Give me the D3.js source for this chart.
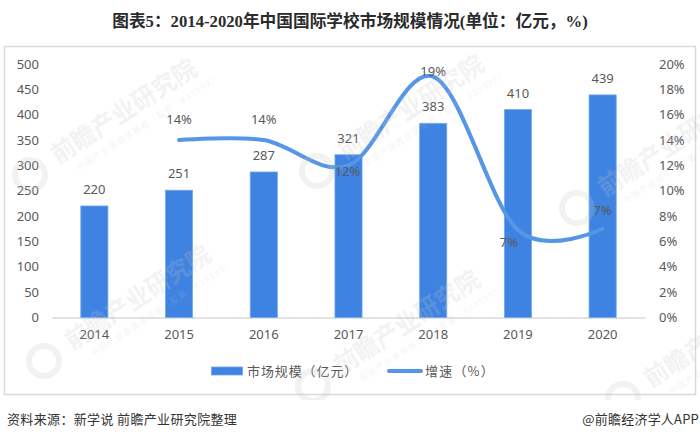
<!DOCTYPE html>
<html>
<head>
<meta charset="utf-8">
<script src="https://cdn.jsdelivr.net/npm/d3@7"></script>
<style>
  html, body { margin: 0; background: #fff; }
  text { font-family: "Noto Sans CJK SC", "Noto Sans", sans-serif; }
</style>
</head>
<body>
<svg id="canvas" width="700" height="440" style="display:block"></svg>
<script>
var years = ['2014', '2015', '2016', '2017', '2018', '2019', '2020'];
var marketSize = [220, 251, 287, 321, 383, 410, 439];
var growthYears = ['2015', '2016', '2017', '2018', '2019', '2020'];
var growthRate = [14, 14, 12, 19, 6.9, 7];
var growthLabels = ['14%', '14%', '12%', '19%', '7%', '7%'];
var sizeTicks = [0, 50, 100, 150, 200, 250, 300, 350, 400, 450, 500];
var rateTicks = [0, 2, 4, 6, 8, 10, 12, 14, 16, 18, 20];

var grey = '#595959';
var barColor = '#3f83e2';
var lineColor = '#5596e6';

var svg = d3.select('#canvas');

svg.append('text')
  .attr('x', 350)
  .attr('y', 27)
  .attr('text-anchor', 'middle')
  .style('font-size', '16.7px')
  .style('font-weight', 'bold')
  .style('font-family', '"Liberation Serif", "Noto Sans CJK SC", serif')
  .style('fill', '#2b2b2b')
  .text('图表5：2014-2020年中国国际学校市场规模情况(单位：亿元，%)');

svg.append('rect')
  .attr('x', 4.5)
  .attr('y', 46.5)
  .attr('width', 691)
  .attr('height', 348)
  .style('fill', '#fff')
  .style('stroke', '#d9d9d9')
  .style('stroke-width', 1.5);

var plotLeft = 52;
var plotRight = 645;
var plotTop = 64;
var plotBottom = 317.5;

var x = d3.scaleBand().domain(years).range([plotLeft, plotRight]).paddingInner(0.68).paddingOuter(0.34);
var ySize = d3.scaleLinear().domain([0, 500]).range([plotBottom, plotTop]);
var yRate = d3.scaleLinear().domain([0, 20]).range([plotBottom, plotTop]);

function cx(year) {
  return x(year) + x.bandwidth() / 2;
}

var xAxis = svg.append('g')
  .attr('transform', 'translate(0,' + plotBottom + ')')
  .call(d3.axisBottom(x).tickSize(0).tickPadding(12));
xAxis.select('path').style('stroke', '#d9d9d9').style('stroke-width', 1.5);

var leftAxis = svg.append('g')
  .attr('transform', 'translate(' + plotLeft + ',0)')
  .call(d3.axisLeft(ySize).tickValues(sizeTicks).tickSize(0).tickPadding(13));
leftAxis.select('path').remove();

var rightAxis = svg.append('g')
  .attr('transform', 'translate(' + plotRight + ',0)')
  .call(d3.axisRight(yRate).tickValues(rateTicks).tickSize(0).tickPadding(14)
    .tickFormat(function(d) { return d + '%'; }));
rightAxis.select('path').remove();

svg.selectAll('.tick text')
  .style('font-size', '13px')
  .style('font-family', '"Noto Sans", sans-serif')
  .style('fill', grey);

svg.append('g').selectAll('rect')
  .data(marketSize)
  .enter()
  .append('rect')
  .attr('x', function(d, i) { return x(years[i]); })
  .attr('y', function(d) { return ySize(d); })
  .attr('width', x.bandwidth())
  .attr('height', function(d) { return plotBottom - ySize(d); })
  .style('fill', barColor)
  .style('stroke', '#6fa8ee')
  .style('stroke-width', 0.8);

svg.append('g').selectAll('text')
  .data(marketSize)
  .enter()
  .append('text')
  .attr('x', function(d, i) { return cx(years[i]); })
  .attr('y', function(d) { return ySize(d) - 12; })
  .attr('text-anchor', 'middle')
  .style('font-size', '13px')
  .style('font-family', '"Noto Sans", sans-serif')
  .style('fill', grey)
  .text(function(d) { return d; });

var line = d3.line()
  .x(function(d, i) { return cx(growthYears[i]); })
  .y(function(d) { return yRate(d); })
  .curve(d3.curveCardinal.tension(0));

svg.append('path')
  .datum(growthRate)
  .attr('d', line)
  .style('fill', 'none')
  .style('stroke', lineColor)
  .style('stroke-width', 4)
  .style('stroke-linecap', 'round');

// label offsets follow the reference, they sit on different sides of the line
var labelDx = [0, 0, -1, 0, -9, 0];
var labelDy = [-16, -16, 11, -1, 17, -14];
svg.append('g').selectAll('text')
  .data(growthRate)
  .enter()
  .append('text')
  .attr('x', function(d, i) { return cx(growthYears[i]) + labelDx[i]; })
  .attr('y', function(d, i) { return yRate(d) + labelDy[i]; })
  .attr('text-anchor', 'middle')
  .style('font-size', '13px')
  .style('font-family', '"Noto Sans", sans-serif')
  .style('fill', grey)
  .text(function(d, i) { return growthLabels[i]; });

// legend
var legend = svg.append('g');
legend.append('rect')
  .attr('x', 211.5)
  .attr('y', 367)
  .attr('width', 31)
  .attr('height', 8)
  .style('fill', barColor)
  .style('stroke', '#6fa8ee')
  .style('stroke-width', 0.8);
legend.append('text')
  .attr('x', 247)
  .attr('y', 376)
  .style('font-size', '13px')
  .style('letter-spacing', '0.9px')
  .style('fill', grey)
  .text('市场规模（亿元）');
legend.append('line')
  .attr('x1', 389)
  .attr('x2', 421)
  .attr('y1', 371)
  .attr('y2', 371)
  .style('stroke', lineColor)
  .style('stroke-width', 4)
  .style('stroke-linecap', 'round');
legend.append('text')
  .attr('x', 425)
  .attr('y', 376)
  .style('font-size', '13px')
  .style('letter-spacing', '1.2px')
  .style('fill', grey)
  .text('增速（%）');

// watermarks lie over the chart and stop at the bottom of the frame
svg.append('clipPath')
  .attr('id', 'mark-clip')
  .append('rect')
  .attr('width', 700)
  .attr('height', 400);

var watermarks = [[58, 164], [72, 350], [345, 160], [341, 375], [605, 197], [651, 388]];
var markLayer = svg.append('g')
  .attr('clip-path', 'url(#mark-clip)')
  .style('opacity', 0.22);
var marks = markLayer.selectAll('g')
  .data(watermarks)
  .enter()
  .append('g')
  .attr('transform', function(d) {
    return 'translate(' + d[0] + ',' + d[1] + ') rotate(-33)';
  })
  .style('fill', '#c4c4c4');
marks.append('text')
  .style('font-size', '24px')
  .style('font-weight', 'bold')
  .text('前瞻产业研究院');
marks.append('text')
  .attr('x', 14)
  .attr('y', 17)
  .style('font-size', '8px')
  .style('letter-spacing', '1.5px')
  .text('中国产业咨询领导者（股票：839599）');
// round logo, opened with a lighter slit
markLayer.selectAll('circle')
  .data(watermarks)
  .enter()
  .append('circle')
  .attr('cx', function(d) { return d[0] - 28; })
  .attr('cy', function(d) { return d[1] + 11; })
  .attr('r', 15)
  .style('fill', 'none')
  .style('stroke', '#c4c4c4')
  .style('stroke-width', 6);

svg.append('text')
  .attr('x', 7)
  .attr('y', 424)
  .style('font-size', '13px')
  .style('letter-spacing', '0.35px')
  .style('fill', '#333')
  .text('资料来源：新学说 前瞻产业研究院整理');

svg.append('text')
  .attr('x', 699)
  .attr('y', 424)
  .attr('text-anchor', 'end')
  .style('font-size', '13px')
  .style('letter-spacing', '0.2px')
  .style('fill', '#333')
  .text('@前瞻经济学人APP');
</script>
</body>
</html>
